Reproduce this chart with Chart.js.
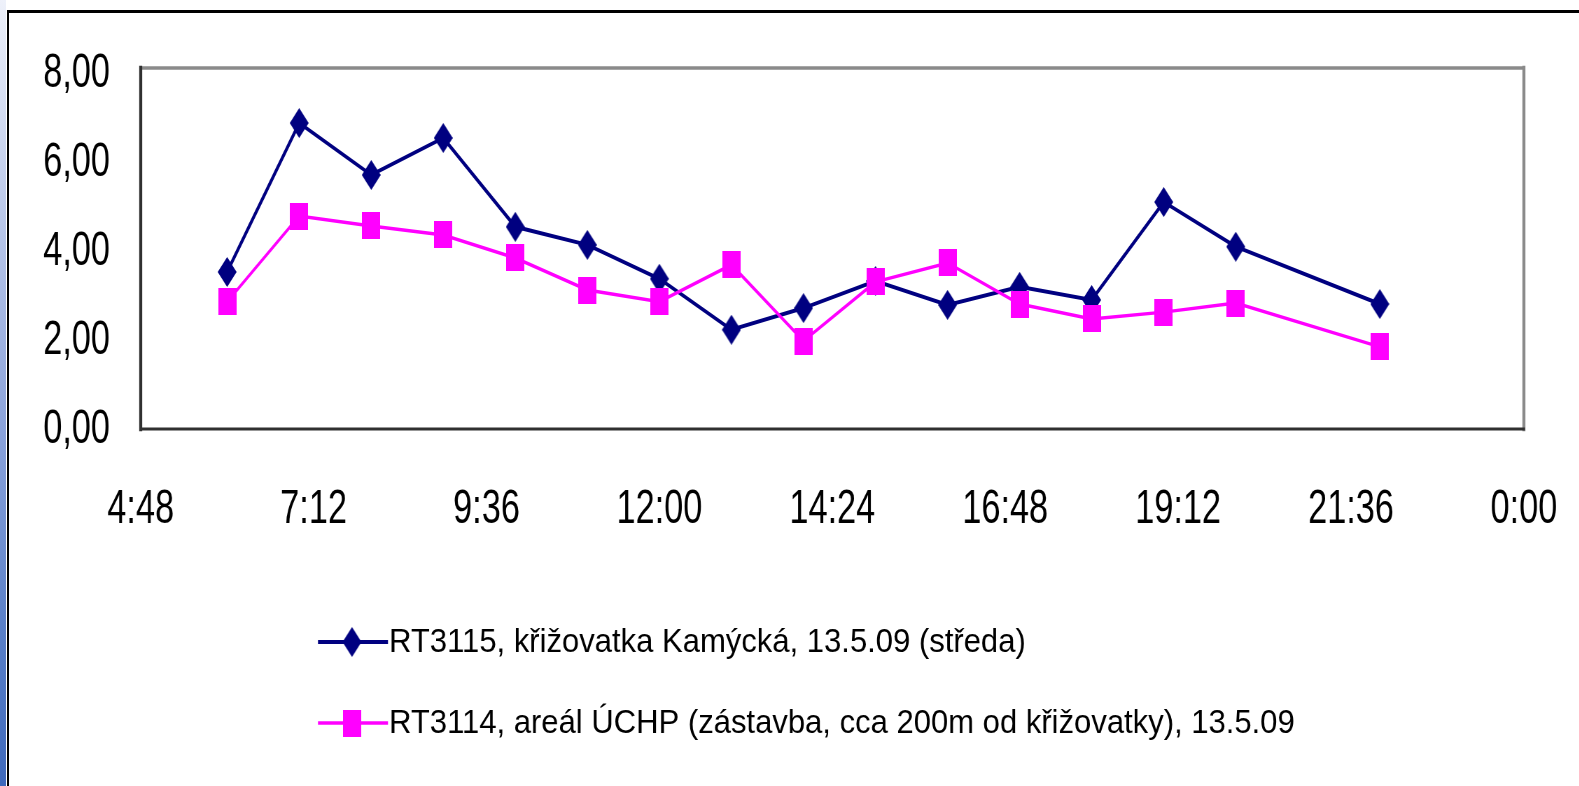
<!DOCTYPE html>
<html>
<head>
<meta charset="utf-8">
<script src="https://cdn.jsdelivr.net/npm/chart.js@4/dist/chart.umd.min.js"></script>
<style>
html,body{margin:0;padding:0;background:#fff;overflow:hidden;width:1579px;height:786px;}
#wrap{position:absolute;left:0;top:0;width:2256px;height:786px;transform:scaleX(0.7);transform-origin:0 0;}
#strip{position:absolute;left:0;top:0;width:6px;height:786px;background:linear-gradient(#eef1fa,#b5c4e8 30%,#8aa2da 55%,#5a80c8 80%,#3f69bb);}
#vline{position:absolute;left:7px;top:10px;width:2px;height:776px;background:#000;}
#hline{position:absolute;left:7px;top:10px;width:1572px;height:3px;background:#000;}
</style>
</head>
<body>
<div id="strip"></div>
<div id="wrap"><canvas id="c" width="2256" height="786"></canvas></div>
<div id="vline"></div>
<div id="hline"></div>
<script>
// ---- data ----
const times = ['6:00','7:00','8:00','9:00','10:00','11:00','12:00','13:00','14:00','15:00','16:00','17:00','18:00','19:00','20:00','22:00'];
const rt3115 = [3.48,6.78,5.63,6.45,4.48,4.08,3.33,2.20,2.68,3.28,2.75,3.15,2.86,5.03,4.04,2.77];
const rt3114 = [2.82,4.72,4.50,4.30,3.79,3.08,2.82,3.64,1.95,3.26,3.68,2.77,2.44,2.59,2.79,1.82];
const xTickLabels = ['4:48','7:12','9:36','12:00','14:24','16:48','19:12','21:36','0:00'];
const yTickValues = [0,2,4,6,8];
const yTickLabels = ['0,00','2,00','4,00','6,00','8,00'];
const series1Label = 'RT3115, křižovatka Kamýcká, 13.5.09 (středa)';
const series2Label = 'RT3114, areál ÚCHP (zástavba, cca 200m od křižovatky), 13.5.09';

const K = 0.7; // horizontal compression applied via CSS
const toMin = t => { const [h,m] = t.split(':').map(Number); return h*60+m; };

function makeMarker(kind, color, wFull, h){
  const w = Math.round(wFull / K);
  const c = document.createElement('canvas');
  c.width = w; c.height = h;
  const g = c.getContext('2d');
  g.fillStyle = color;
  if (kind === 'square') {
    g.fillRect(0,0,w,h);
  } else {
    g.beginPath();
    g.moveTo(w/2,0); g.lineTo(w,h/2); g.lineTo(w/2,h); g.lineTo(0,h/2); g.closePath(); g.fill();
  }
  return c;
}
const navy = '#000080', pink = '#FF00FF';
const diamond = makeMarker('diamond', navy, 19, 30);
const square = makeMarker('square', pink, 18, 27);

const framePlugin = {
  id:'frame',
  beforeDatasetsDraw(chart){
    const {ctx, chartArea:a} = chart;
    ctx.save();
    ctx.lineCap = 'square';
    ctx.strokeStyle = '#8a8a8a';
    ctx.lineWidth = 3.5;
    ctx.beginPath(); ctx.moveTo(a.left, a.top); ctx.lineTo(a.right, a.top); ctx.stroke();
    ctx.lineWidth = 4.3;
    ctx.beginPath(); ctx.moveTo(a.right, a.top); ctx.lineTo(a.right, a.bottom); ctx.stroke();
    ctx.strokeStyle = '#303030';
    ctx.lineWidth = 4.3;
    ctx.beginPath(); ctx.moveTo(a.left, a.top); ctx.lineTo(a.left, a.bottom); ctx.stroke();
    ctx.lineWidth = 3;
    ctx.beginPath(); ctx.moveTo(a.left, a.bottom); ctx.lineTo(a.right, a.bottom); ctx.stroke();
    ctx.restore();
  }
};

const legendPlugin = {
  id:'customLegend',
  afterDraw(chart){
    const ctx = chart.ctx;
    const rowsY = [642, 723];
    chart.data.datasets.forEach((ds, i) => {
      const y = rowsY[i];
      ctx.save();
      ctx.strokeStyle = ds.borderColor;
      ctx.lineWidth = ds.borderWidth;
      ctx.beginPath(); ctx.moveTo(318/K, y); ctx.lineTo(388/K, y); ctx.stroke();
      const img = ds.pointStyle;
      ctx.drawImage(img, 352/K - img.width/2, y - img.height/2);
      ctx.translate(389/K, y);
      ctx.scale(0.94/K, 1);
      ctx.font = '33px "Liberation Sans", Arial, sans-serif';
      ctx.fillStyle = '#000';
      ctx.textBaseline = 'middle';
      ctx.fillText(ds.label, 0, 1);
      ctx.restore();
    });
  }
};

const tickFont = {family:'"Liberation Sans", Arial, sans-serif', size:49};

new Chart(document.getElementById('c'), {
  type:'line',
  data:{
    datasets:[
      {label:series1Label, data: times.map((t,i)=>({x:toMin(t), y:rt3115[i]})),
       borderColor:navy, backgroundColor:navy, borderWidth:4, pointStyle:diamond, order:1, tension:0},
      {label:series2Label, data: times.map((t,i)=>({x:toMin(t), y:rt3114[i]})),
       borderColor:pink, backgroundColor:pink, borderWidth:3.5, pointStyle:square, order:0, tension:0}
    ]
  },
  options:{
    responsive:false, animation:false, devicePixelRatio:1,
    layout:{padding:{left:0, right:79, top:68, bottom:237}},
    plugins:{legend:{display:false}, tooltip:{enabled:false}},
    scales:{
      x:{type:'linear', min:288, max:1440,
         grid:{display:false, drawTicks:false}, border:{display:false},
         ticks:{stepSize:144, padding:51, font:tickFont, color:'#000', maxRotation:0, autoSkip:false,
                callback:(v,i)=>xTickLabels[i]},
         afterFit:s=>{s.height=120; s.paddingLeft=0; s.paddingRight=0;}},
      y:{min:0, max:8, position:'left',
         grid:{display:false, drawTicks:false}, border:{display:false},
         ticks:{display:false, stepSize:2},
         afterFit:s=>{s.width=0; s.paddingTop=0; s.paddingBottom=0;}},
      // label axis: Excel places the value labels slightly inside the plot height
      yLabels:{min:0, max:8.124, position:'left', axis:'y',
         grid:{display:false, drawTicks:false}, border:{display:false},
         ticks:{padding:44, font:tickFont, color:'#000',
                callback:(v,i)=>yTickLabels[i]},
         afterBuildTicks:s=>{s.ticks = yTickValues.map(v=>({value:v}));},
         afterFit:s=>{s.width=201; s.paddingTop=0; s.paddingBottom=0;}}
    }
  },
  plugins:[framePlugin, legendPlugin]
});
</script>
</body>
</html>
